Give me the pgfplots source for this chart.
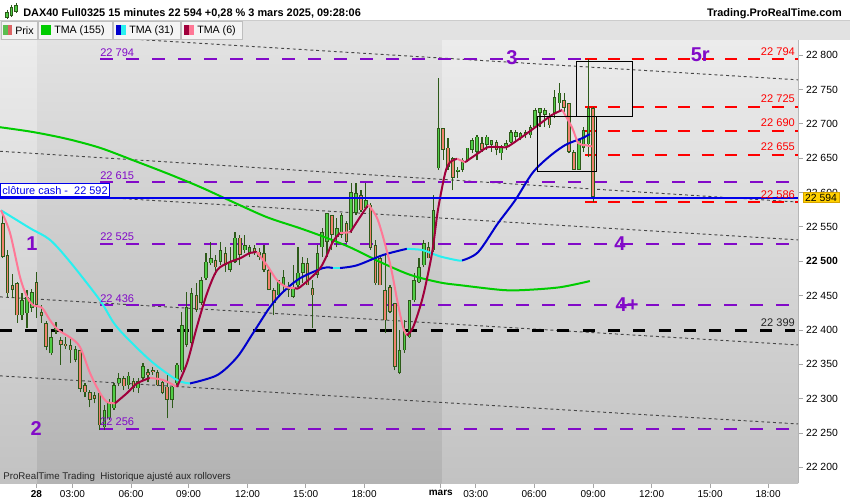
\documentclass[border=0pt]{standalone}
\usepackage{pgfplots}
\pgfplotsset{compat=1.18}
\usepackage{pgfplotstable}
\usepackage{fontspec}
\setmainfont{Liberation Sans}
\newcommand\fs[1]{\fontsize{#1}{#1}\selectfont}
\definecolor{wick}{RGB}{45,90,25}
\definecolor{bull}{RGB}{80,205,70}
\definecolor{bear}{RGB}{240,130,110}
\definecolor{purp}{RGB}{130,10,200}
\definecolor{tmagreen}{RGB}{0,204,0}
\definecolor{tmablue}{RGB}{0,0,205}
\definecolor{tmacyan}{RGB}{40,240,240}
\definecolor{tmadred}{RGB}{160,0,60}
\definecolor{tmapink}{RGB}{255,120,150}
\definecolor{dotgray}{RGB}{70,70,70}
\definecolor{bgtop}{RGB}{236,236,236}
\definecolor{bgbot}{RGB}{194,194,194}
\definecolor{bgtopd}{RGB}{226,226,226}
\definecolor{bgbotd}{RGB}{179,179,179}
\definecolor{goldbox}{RGB}{255,208,0}
\definecolor{goldbd}{RGB}{215,165,0}
\definecolor{rowbg}{RGB}{226,226,226}
\definecolor{tabbg}{RGB}{244,244,244}
\definecolor{tabbd}{RGB}{190,190,190}
\definecolor{cashblue}{RGB}{0,0,235}
\definecolor{prixg}{RGB}{90,190,80}
\definecolor{prixr}{RGB}{220,100,100}

\pgfplotstableread{
i O H L C
0 22555 22567 22504 22506
1 22509 22516 22448 22453
2 22465 22481 22446 22458
3 22468 22469 22410 22421
4 22421 22453 22414 22443
5 22424 22458 22402 22448
6 22432 22459 22426 22455
7 22469 22484 22417 22436
8 22426 22436 22410 22420
9 22410 22413 22370 22375
10 22366 22397 22363 22389
11 22400 22411 22394 22402
12 22385 22389 22349 22378
13 22380 22390 22372 22376
14 22378 22389 22351 22370
15 22356 22376 22353 22372
16 22370 22373 22309 22314
17 22319 22322 22302 22309
18 22309 22312 22287 22298
19 22305 22309 22293 22300
20 22308 22309 22254 22261
21 22258 22290 22254 22283
22 22271 22300 22268 22295
23 22286 22322 22283 22319
24 22322 22337 22318 22330
25 22330 22333 22312 22318
26 22319 22338 22314 22333
27 22325 22330 22309 22315
28 22315 22330 22308 22325
29 22330 22352 22327 22347
30 22338 22343 22324 22334
31 22341 22346 22334 22338
32 22338 22341 22318 22319
33 22324 22327 22306 22308
34 22317 22337 22271 22298
35 22298 22318 22286 22317
36 22322 22352 22318 22349
37 22341 22426 22338 22407
38 22378 22455 22375 22433
39 22381 22461 22376 22453
40 22450 22468 22426 22429
41 22439 22477 22436 22472
42 22475 22512 22472 22499
43 22497 22528 22494 22504
44 22501 22509 22480 22491
45 22499 22528 22494 22516
46 22512 22520 22484 22494
47 22487 22520 22484 22499
48 22499 22542 22497 22534
49 22534 22538 22494 22509
50 22516 22538 22512 22523
51 22512 22523 22506 22520
52 22519 22523 22509 22514
53 22514 22519 22501 22506
54 22512 22523 22484 22487
55 22487 22490 22458 22458
56 22458 22461 22421 22439
57 22450 22472 22448 22472
58 22465 22487 22455 22477
59 22458 22469 22448 22464
60 22448 22494 22446 22461
61 22465 22520 22462 22483
62 22483 22506 22468 22497
63 22497 22504 22465 22465
64 22461 22472 22402 22450
65 22480 22523 22475 22512
66 22520 22548 22506 22542
67 22528 22570 22506 22570
68 22567 22567 22516 22538
69 22535 22563 22520 22548
70 22538 22570 22534 22567
71 22555 22558 22526 22528
72 22545 22614 22541 22600
73 22570 22614 22567 22599
74 22596 22603 22571 22574
75 22577 22614 22574 22589
76 22582 22584 22516 22519
77 22523 22531 22465 22468
78 22504 22506 22465 22465
79 22458 22509 22395 22414
80 22462 22465 22424 22426
81 22439 22439 22341 22346
82 22337 22400 22335 22370
83 22370 22414 22367 22400
84 22389 22443 22388 22443
85 22443 22483 22440 22472
86 22469 22504 22468 22491
87 22494 22531 22491 22526
88 22520 22528 22504 22504
89 22516 22596 22513 22574
90 22635 22767 22633 22694
91 22694 22694 22647 22662
92 22665 22679 22633 22637
93 22650 22651 22603 22621
94 22630 22637 22621 22633
95 22633 22650 22630 22647
96 22647 22665 22644 22665
97 22662 22679 22657 22676
98 22659 22683 22647 22681
99 22672 22681 22659 22662
100 22669 22683 22662 22681
101 22669 22676 22659 22676
102 22673 22676 22654 22662
103 22657 22669 22647 22665
104 22667 22676 22662 22672
105 22673 22691 22672 22688
106 22681 22691 22673 22688
107 22679 22688 22676 22686
108 22683 22691 22679 22688
109 22683 22698 22679 22695
110 22695 22723 22694 22720
111 22716 22723 22695 22723
112 22713 22723 22695 22720
113 22710 22716 22694 22698
114 22716 22749 22708 22739
115 22730 22759 22720 22745
116 22734 22745 22717 22723
117 22730 22730 22657 22659
118 22659 22662 22633 22633
119 22633 22676 22633 22676
120 22665 22695 22659 22691
121 22670 22794 22651 22723
122 22723 22725 22586 22594
}\candles

\begin{document}
\begin{tikzpicture}
\useasboundingbox (0,0) rectangle (637.5pt,375pt);
\fill[white] (0,0) rectangle (637.5pt,375pt);
\begin{axis}[
  at={(0pt,12.75pt)}, anchor=south west,
  scale only axis, width=598.5pt, height=332.25pt,
  xmin=-0.56, xmax=164.3, ymin=22177, ymax=22822,
  scaled x ticks=false, scaled y ticks=false,
  axis x line*=bottom, axis y line*=right,
  axis line style={draw=gray!60, line width=0.6pt},
  tick style={draw=gray!70, line width=0.5pt},
  tick align=outside, major tick length=3.5pt,
  ytick={22200,22250,22300,22350,22400,22450,22500,22550,22600,22650,22700,22750,22800},
  yticklabels={22 200,22 250,22 300,22 350,22 400,22 450,\textbf{22 500},22 550,22 600,22 650,22 700,22 750,22 800},
  xtick={6.98,14.42,26.51,38.39,50.58,62.60,74.65,90.50,97.73,109.77,121.96,134.05,146.14,158.12},
  xticklabels={\textbf{28},03:00,06:00,09:00,12:00,15:00,18:00,\textbf{mars},03:00,06:00,09:00,12:00,15:00,18:00},
  yticklabel style={font=\fs{7.8}, xshift=-1pt},
  xticklabel style={font=\fs{7.5}, yshift=1.5pt},
  candle/.style={draw=none, mark=none, forget plot,
    error bars/y dir=plus, error bars/y explicit, error bars/error mark=none},
]
% background
\addplot[draw=none, top color=bgtop, bottom color=bgbot, forget plot] coordinates {(-0.56,22177) (164.3,22177) (164.3,22822) (-0.56,22822)} -- cycle;
\addplot[draw=none, top color=bgtopd, bottom color=bgbotd, forget plot] coordinates {(7.09,22177) (90.6,22177) (90.6,22822) (7.09,22822)} -- cycle;

% channel lines (dotted)
\addplot[dotgray, line width=0.7pt, dash pattern=on 2.2pt off 2.2pt] coordinates {(-0.56,22835) (164.3,22764)};
\addplot[dotgray, line width=0.7pt, dash pattern=on 2.2pt off 2.2pt] coordinates {(-0.56,22660) (164.3,22586)};
\addplot[dotgray, line width=0.7pt, dash pattern=on 2.2pt off 2.2pt] coordinates {(-0.56,22602) (164.3,22531)};
\addplot[dotgray, line width=0.7pt, dash pattern=on 2.2pt off 2.2pt] coordinates {(-0.56,22448) (164.3,22378)};
\addplot[dotgray, line width=0.7pt, dash pattern=on 2.2pt off 2.2pt] coordinates {(-0.56,22333) (164.3,22263)};

% purple levels
\addplot[purp, line width=1.7pt, dash pattern=on 9.75pt off 9.75pt] coordinates {(20.1,22794) (120.3,22794)};
\addplot[purp, line width=1.7pt, dash pattern=on 9.75pt off 9.75pt] coordinates {(20.1,22615) (163.7,22615)};
\addplot[purp, line width=1.7pt, dash pattern=on 9.75pt off 9.75pt] coordinates {(20.1,22525) (163.7,22525)};
\addplot[purp, line width=1.7pt, dash pattern=on 9.75pt off 9.75pt] coordinates {(20.1,22436) (163.7,22436)};
\addplot[purp, line width=1.7pt, dash pattern=on 9.75pt off 9.75pt] coordinates {(20.1,22256) (163.7,22256)};
% red levels
\addplot[red, line width=1.5pt, dash pattern=on 9pt off 8.5pt] coordinates {(120.3,22794) (164.3,22794)};
\addplot[red, line width=1.5pt, dash pattern=on 9pt off 8.5pt] coordinates {(120.3,22725) (164.3,22725)};
\addplot[red, line width=1.5pt, dash pattern=on 9pt off 8.5pt] coordinates {(120.3,22690) (164.3,22690)};
\addplot[red, line width=1.5pt, dash pattern=on 9pt off 8.5pt] coordinates {(120.3,22655) (164.3,22655)};
\addplot[red, line width=1.5pt, dash pattern=on 9pt off 8.5pt] coordinates {(120.3,22586) (164.3,22586)};
% black level
\addplot[black, line width=1.9pt, dash pattern=on 9pt off 10pt] coordinates {(-0.56,22399) (163.7,22399)};

% candles: wicks
\addplot[candle, error bars/error bar style={draw=wick, line width=0.9pt, solid}]
  table[x=i, y=L, y error plus expr=\thisrow{H}-\thisrow{L}] {\candles};
% bull bodies
\addplot[restrict expr to domain={\thisrow{C}-\thisrow{O}}{0:10000}, candle,
  error bars/error bar style={draw=wick, line width=2.7pt, solid}]
  table[x=i, y=O, y error plus expr=\thisrow{C}-\thisrow{O}] {\candles};
\addplot[restrict expr to domain={\thisrow{C}-\thisrow{O}}{0:10000}, candle,
  error bars/error bar style={draw=bull, line width=1.2pt, solid}]
  table[x=i, y expr=\thisrow{O}+0.9, y error plus expr={max(\thisrow{C}-\thisrow{O}-1.8,0)}] {\candles};
% bear bodies
\addplot[restrict expr to domain={\thisrow{C}-\thisrow{O}}{-10000:-0.01}, candle,
  error bars/error bar style={draw=wick, line width=2.7pt, solid}]
  table[x=i, y=C, y error plus expr=\thisrow{O}-\thisrow{C}] {\candles};
\addplot[restrict expr to domain={\thisrow{C}-\thisrow{O}}{-10000:-0.01}, candle,
  error bars/error bar style={draw=bear, line width=1.2pt, solid}]
  table[x=i, y expr=\thisrow{C}+0.9, y error plus expr={max(\thisrow{O}-\thisrow{C}-1.8,0)}] {\candles};

% TMA 155
\addplot[tmagreen, line width=1.5pt, smooth] coordinates {(-0.56,22695) (6.26,22688) (13.3,22678) (20.1,22665) (26.9,22647) (33.9,22628) (40.8,22608) (47.6,22586) (54.6,22564) (61.4,22548) (66.5,22535) (71.8,22520) (77.9,22499) (84.2,22480) (90.3,22469) (94.5,22465) (103.2,22458) (107.9,22458) (115.1,22462) (121.3,22471)};

% TMA 31
\addplot[tmacyan, line width=1.5pt, smooth] coordinates {(-0.35,22574) (5.64,22548) (9.77,22531) (13.9,22499) (20.1,22443) (23.6,22404) (30.4,22356) (36.0,22327) (38.7,22322)};
\addplot[tmablue, line width=1.5pt, smooth] coordinates {(38.7,22322) (44.3,22334) (48.4,22360) (51.7,22395) (55.2,22433) (57.9,22455) (61.4,22475) (66.2,22490) (68.2,22490)};
\addplot[tmacyan, line width=1.5pt] coordinates {(68.2,22490) (69.7,22490)};
\addplot[tmablue, line width=1.5pt, smooth] coordinates {(69.7,22490) (73.2,22494) (78.6,22509) (83.5,22518)};
\addplot[tmacyan, line width=1.5pt, smooth] coordinates {(83.5,22518) (86.8,22516) (90.3,22507) (94.1,22501) (94.9,22501)};
\addplot[tmablue, line width=1.5pt, smooth] coordinates {(94.9,22501) (98.2,22513) (102.3,22555) (105.9,22589) (109.4,22628) (112.7,22651) (116.2,22669) (119.7,22679) (121.3,22685)};

% TMA 6
\addplot[tmapink, line width=1.5pt, smooth] coordinates {(-0.35,22574) (1.51,22541) (3.57,22477) (5.02,22448) (6.26,22436) (8.12,22432) (9.77,22414) (11.43,22400) (13.9,22389) (15.97,22375) (18.04,22337) (20.1,22308) (21.55,22295) (23.2,22293)};
\addplot[tmadred, line width=1.5pt, smooth] coordinates {(23.2,22293) (25.7,22308) (27.75,22322) (30.4,22330)};
\addplot[tmapink, line width=1.5pt, smooth] coordinates {(30.4,22330) (33.1,22327) (36.0,22317)};
\addplot[tmadred, line width=1.5pt, smooth] coordinates {(36.0,22317) (38.1,22352) (40.1,22404) (42.2,22453) (44.3,22487) (47.0,22499) (49.0,22504) (51.1,22512) (52.5,22513)};
\addplot[tmapink, line width=1.5pt, smooth] coordinates {(52.5,22513) (54.6,22494) (56.7,22472) (58.7,22462) (60.4,22461)};
\addplot[tmadred, line width=1.5pt, smooth] coordinates {(60.4,22461) (61.4,22462) (65.6,22490) (68.2,22528) (69.7,22541)};
\addplot[tmapink, line width=1.5pt] coordinates {(69.7,22541) (71.8,22542)};
\addplot[tmadred, line width=1.5pt, smooth] coordinates {(71.8,22542) (73.8,22564) (75.5,22582)};
\addplot[tmapink, line width=1.5pt, smooth] coordinates {(75.5,22582) (77.5,22560) (80.0,22497) (81.5,22443) (82.7,22404) (83.5,22392)};
\addplot[tmadred, line width=1.5pt, smooth] coordinates {(83.5,22392) (84.8,22404) (86.8,22448) (88.7,22512) (89.9,22574) (91.4,22628) (92.4,22644) (93.9,22649)};
\addplot[tmapink, line width=1.5pt] coordinates {(93.9,22649) (95.5,22644)};
\addplot[tmadred, line width=1.5pt, smooth] coordinates {(95.5,22644) (98.2,22657) (100.3,22666) (103.2,22666) (104.4,22667) (107.9,22684) (110.6,22698) (113.5,22713) (115.6,22720)};
\addplot[tmapink, line width=1.5pt, smooth] coordinates {(115.6,22720) (117.6,22695) (118.9,22672) (120.3,22669) (121.7,22667)};

% cash close line
\addplot[cashblue, line width=1.5pt] coordinates {(-0.56,22592) (164.3,22592)};

% boxes
\addplot[black, line width=0.75pt] coordinates {(110.4,22711) (122.6,22711) (122.6,22630) (110.4,22630)} -- cycle;
\addplot[black, line width=0.75pt] coordinates {(118.5,22791) (130.2,22791) (130.2,22711) (118.5,22711)} -- cycle;

% level labels
\node[anchor=base west, inner sep=0, text=purp, font=\fs{8.3}] at (axis cs:20.1,22798.5) {22 794};
\node[anchor=base west, inner sep=0, text=purp, font=\fs{8.3}] at (axis cs:20.1,22619.5) {22 615};
\node[anchor=base west, inner sep=0, text=purp, font=\fs{8.3}] at (axis cs:20.1,22529.5) {22 525};
\node[anchor=base west, inner sep=0, text=purp, font=\fs{8.3}] at (axis cs:20.1,22440.5) {22 436};
\node[anchor=base west, inner sep=0, text=purp, font=\fs{8.3}] at (axis cs:20.1,22260.5) {22 256};
\node[anchor=base east, inner sep=0, text=red, font=\fs{8.3}] at (axis cs:163.7,22799.5) {22 794};
\node[anchor=base east, inner sep=0, text=red, font=\fs{8.3}] at (axis cs:163.7,22730.5) {22 725};
\node[anchor=base east, inner sep=0, text=red, font=\fs{8.3}] at (axis cs:163.7,22695.5) {22 690};
\node[anchor=base east, inner sep=0, text=red, font=\fs{8.3}] at (axis cs:163.7,22660.5) {22 655};
\node[anchor=base east, inner sep=0, text=red, font=\fs{8.3}] at (axis cs:163.7,22591.5) {22 586};
\node[anchor=base east, inner sep=0, text=black!85, font=\fs{8.3}] at (axis cs:163.7,22404.5) {22 399};

% wave labels
\node[inner sep=0, text=purp, font=\fs{15}\bfseries] at (axis cs:6.05,22526) {1};
\node[inner sep=0, text=purp, font=\fs{15}\bfseries] at (axis cs:6.9,22257) {2};
\node[inner sep=0, text=purp, font=\fs{15}\bfseries] at (axis cs:105.2,22796) {3};
\node[inner sep=0, text=purp, font=\fs{15}\bfseries] at (axis cs:127.5,22526) {4};
\node[inner sep=0, text=purp, font=\fs{15}\bfseries] at (axis cs:129,22436) {4+};
\node[inner sep=0, text=purp, font=\fs{15}\bfseries] at (axis cs:144.1,22800) {5r};

% cash label
\node[anchor=west, draw=cashblue, fill=white, text=cashblue, inner xsep=1.5pt, inner ysep=1.8pt, line width=0.75pt, font=\fs{8.2}] at (axis cs:-0.56,22603) {clôture cash -\ \ 22 592};
\end{axis}

\begin{scope}[x=0.75pt, y=-0.75pt, shift={(0pt,375pt)}]
% header row 1
\node[anchor=base west, inner sep=0, font=\fs{8.2}\bfseries] at (23,16.7) {DAX40 Full0325 15 minutes 22 594 +0,28 \% 3 mars 2025, 09:28:06};
\node[anchor=base east, inner sep=0, font=\fs{8.2}\bfseries] at (842,16.7) {Trading.ProRealTime.com};
% icon
\draw[wick, line width=0.6pt] (7,10)--(7,19) (11.5,5)--(11.5,17) (16,3)--(16,13);
\draw[wick, fill=bull, line width=0.5pt] (5.8,12) rectangle (8.2,17.5);
\draw[wick, fill=bull, line width=0.5pt] (10.3,7) rectangle (12.7,15);
\draw[wick, fill=bull, line width=0.5pt] (14.8,5) rectangle (17.2,11);
% header row 2
\fill[rowbg] (0,20) rectangle (850,40);
\draw[gray!40, line width=0.5pt] (0,20)--(850,20);
\draw[fill=tabbg, draw=tabbd, line width=0.5pt] (1,21) rectangle (37,39.5);
\draw[fill=tabbg, draw=tabbd, line width=0.5pt] (38,21) rectangle (112,39.5);
\draw[fill=tabbg, draw=tabbd, line width=0.5pt] (113,21) rectangle (180.5,39.5);
\draw[fill=tabbg, draw=tabbd, line width=0.5pt] (181.5,21) rectangle (242,39.5);
\fill[prixg] (3,25) rectangle (7.5,35);
\fill[prixr] (7.5,25) rectangle (12,35);
\fill[tmagreen] (41,25) rectangle (51,35);
\fill[tmablue] (116,25) rectangle (121,35);
\fill[tmacyan] (121,25) rectangle (126,35);
\fill[tmadred] (184,25) rectangle (189,35);
\fill[tmapink] (189,25) rectangle (194,35);
\node[anchor=west, inner sep=0, font=\fs{8}] at (15,30.5) {Prix};
\node[anchor=west, inner sep=0, font=\fs{8}] at (54,30.5) {TMA (155)};
\node[anchor=west, inner sep=0, font=\fs{8}] at (129,30.5) {TMA (31)};
\node[anchor=west, inner sep=0, font=\fs{8}] at (197,30.5) {TMA (6)};
% bottom text
\node[anchor=base west, inner sep=0, font=\fs{7.3}, text=black!85] at (3,479.5) {ProRealTime Trading\ \ Historique ajusté aux rollovers};
% current price box
\node[fill=goldbox, draw=goldbd, line width=0.5pt, inner xsep=1.5pt, inner ysep=1.2pt, font=\fs{7.8}] at (821,197.5) {22 594};
\end{scope}
\end{tikzpicture}
\end{document}
